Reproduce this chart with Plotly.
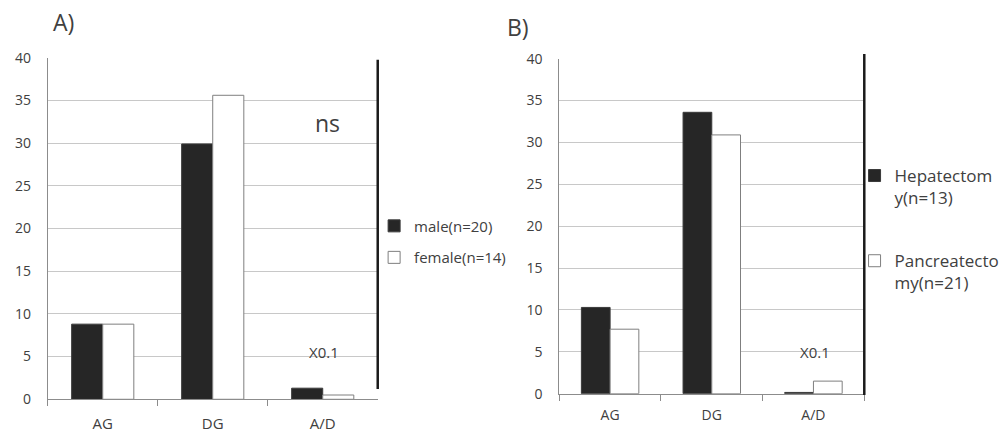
import plotly.graph_objects as go

categories = ["AG", "DG", "A/D"]
male = [8.8, 29.9, 1.3]
female = [8.8, 35.6, 0.5]
hepatectomy = [10.3, 33.6, 0.15]
pancreatectomy = [7.7, 30.9, 1.5]
y_ticks = [0, 5, 10, 15, 20, 25, 30, 35, 40]

FONT = "Open Sans"
DARK = "#262626"
TXT = "#404040"

fig = go.Figure()
fig.add_trace(go.Bar(x=categories, y=male, name="male(n=20)", xaxis="x", yaxis="y",
                     marker=dict(color=DARK, line=dict(color="#3a3a3a", width=1)),
                     legend="legend", legendgroup="a1"))
fig.add_trace(go.Bar(x=categories, y=female, name="female(n=14)", xaxis="x", yaxis="y",
                     marker=dict(color="white", line=dict(color="#7f7f7f", width=1)),
                     legend="legend", legendgroup="a2"))
fig.add_trace(go.Bar(x=categories, y=hepatectomy, name="Hepatectom<br>y(n=13)", xaxis="x2", yaxis="y2",
                     marker=dict(color=DARK, line=dict(color="#3a3a3a", width=1)),
                     legend="legend2", legendgroup="b1"))
fig.add_trace(go.Bar(x=categories, y=pancreatectomy, name="Pancreatecto<br>my(n=21)", xaxis="x2", yaxis="y2",
                     marker=dict(color="white", line=dict(color="#7f7f7f", width=1)),
                     legend="legend2", legendgroup="b2"))

xa = dict(type="category", showline=True, linecolor="#8c8c8c", linewidth=1,
          ticks="outside", tickson="boundaries", ticklen=6, tickcolor="#8c8c8c",
          showgrid=False, automargin=False, tickfont=dict(family=FONT, size=15, color=TXT))
ya = dict(range=[0, 40], tickvals=y_ticks, showline=True, linecolor="#8c8c8c", linewidth=1,
          showgrid=True, gridcolor="#c8c8c8", gridwidth=1, zeroline=False, automargin=False,
          tickfont=dict(family=FONT, size=14, color=TXT))

fig.update_layout(
    width=1003, height=434,
    margin=dict(l=0, r=0, t=0, b=0, autoexpand=False),
    paper_bgcolor="white", plot_bgcolor="white",
    barmode="group", bargap=0.435, bargroupgap=0,
    xaxis=dict(xa, domain=[0.0476, 0.3766], anchor="y", ticklabelstandoff=11),
    yaxis=dict(ya, domain=[0.080, 0.867], anchor="x", ticklabelstandoff=13),
    xaxis2=dict(xa, domain=[0.5576, 0.8617], anchor="y2", ticklabelstandoff=9,
                tickfont=dict(family=FONT, size=14, color=TXT)),
    yaxis2=dict(ya, domain=[0.0929, 0.8647], anchor="x2", ticklabelstandoff=13),
    legend=dict(x=0.373, xanchor="left", y=0.517, yanchor="top", bgcolor="rgba(0,0,0,0)",
                font=dict(family=FONT, size=15, color=TXT), tracegroupgap=9,
                itemclick=False),
    legend2=dict(x=0.852, xanchor="left", y=0.636, yanchor="top", bgcolor="rgba(0,0,0,0)",
                 font=dict(family=FONT, size=17, color=TXT), tracegroupgap=38, valign="top",
                 itemclick=False),
    font=dict(family=FONT, color=TXT),
)

fig.add_shape(type="line", xref="x domain", yref="y domain", x0=1, x1=1, y0=0.03, y1=0.994,
              line=dict(color="#1a1a1a", width=2.5))
fig.add_shape(type="line", xref="x2 domain", yref="y2 domain", x0=1, x1=1, y0=-0.004, y1=1.014,
              line=dict(color="#1a1a1a", width=2.5))

ann = dict(showarrow=False, xanchor="center", yanchor="middle")
fig.add_annotation(text="A)", xref="paper", yref="paper", x=0.063, y=0.949,
                   font=dict(family=FONT, size=23, color=TXT), **ann)
fig.add_annotation(text="B)", xref="paper", yref="paper", x=0.516, y=0.937,
                   font=dict(family=FONT, size=23, color=TXT), **ann)
fig.add_annotation(text="ns", xref="x domain", yref="y domain", x=0.849, y=0.809,
                   font=dict(family=FONT, size=23, color=TXT), **ann)
fig.add_annotation(text="X0.1", xref="x domain", yref="y domain", x=0.837, y=0.138,
                   font=dict(family=FONT, size=15, color=TXT), **ann)
fig.add_annotation(text="X0.1", xref="x2 domain", yref="y2 domain", x=0.838, y=0.124,
                   font=dict(family=FONT, size=15, color=TXT), **ann)

fig.write_html("out.html", config={"displayModeBar": False},
               post_script="document.body.style.margin='0';")
